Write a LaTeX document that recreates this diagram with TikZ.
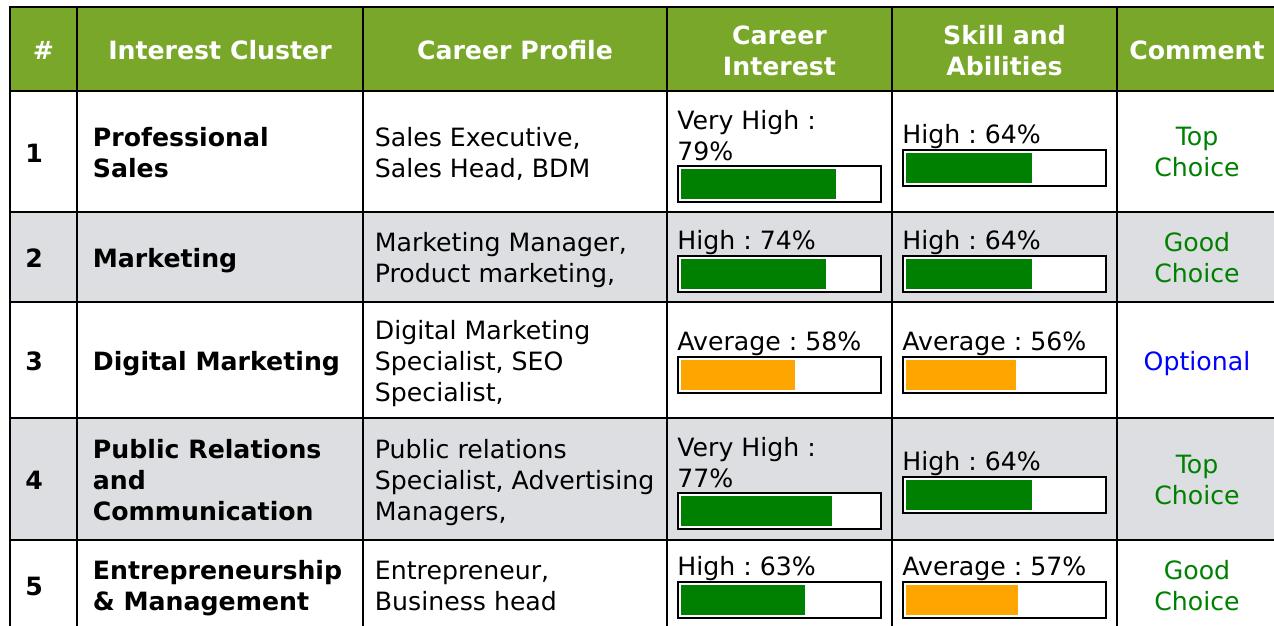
\documentclass[tikz,border=0pt]{standalone}
\usepackage{fontspec}
\setmainfont{DejaVu Sans}

\definecolor{hdrgreen}{RGB}{121,167,42}
\definecolor{rowgray}{RGB}{221,222,225}
\definecolor{bargreen}{RGB}{0,128,0}
\definecolor{barorange}{RGB}{255,165,0}

\newcommand{\cellfont}{\fontsize{12.6pt}{15.5pt}\selectfont\frenchspacing}
\newcommand{\cellstrut}{\rule[-3.4pt]{0pt}{15.5pt}}

\tikzstyle{grid}=[line width=1.2pt, line cap=rect]
\tikzstyle{txt}=[inner sep=0pt, font=\cellfont, execute at begin node=\cellstrut, execute at end node=\cellstrut]
\tikzstyle{head}=[txt, font=\cellfont\bfseries, text=white, align=center]
\tikzstyle{rownum}=[txt, font=\cellfont\bfseries, anchor=west]
\tikzstyle{cluster}=[txt, font=\cellfont\bfseries, anchor=west, align=left]
\tikzstyle{prof}=[txt, anchor=west, align=left]
\tikzstyle{score}=[txt, anchor=south west, align=left]
\tikzstyle{remark}=[txt, align=center]
\tikzstyle{barframe}=[draw=black, fill=white, line width=1pt]

\begin{document}
\begin{tikzpicture}[x=0.5pt,y=-0.5pt]
	\useasboundingbox (0,0) rectangle (1274,626);
	\clip (0,0) rectangle (1274,626);

	% backgrounds
	\fill[hdrgreen] (10,7) rectangle (1277,91);
	\fill[rowgray] (10,212) rectangle (1277,302);
	\fill[rowgray] (10,418) rectangle (1277,540);

	% grid
	\foreach \r in {7,91,212,302,418,540}
		\draw[grid] (10,\r) -- (1277,\r);
	\foreach \c in {10,77,363,667,892,1117,1277}
		\draw[grid] (\c,7) -- (\c,632);

	% header
	\node[head] (hnum) at (43.5,51) {\#};
	\node[head] (hcluster) at (220,51) {Interest Cluster};
	\node[head] (hprofile) at (515,51) {Career Profile};
	\node[head] (hinterest) at (779.5,54) {Career\\Interest};
	\node[head] (hskill) at (1004.5,54) {Skill and\\Abilities};
	\node[head] (hcomment) at (1197,51) {Comment};

	% row numbers and clusters
	\node[rownum] (n1) at (25,153.5) {1};
	\node[rownum] (n2) at (25,259) {2};
	\node[rownum] (n3) at (25,362) {3};
	\node[rownum] (n4) at (25,481) {4};
	\node[rownum] (n5) at (25,587) {5};
	\node[cluster] (ic1) at (92.5,155.5) {Professional\\Sales};
	\node[cluster] (ic2) at (92.5,259) {Marketing};
	\node[cluster] (ic3) at (92.5,362) {Digital Marketing};
	\node[cluster] (ic4) at (92.5,483) {Public Relations\\and\\Communication};
	\node[cluster] (ic5) at (92.5,589) {Entrepreneurship\\\& Management};

	% career profiles
	\node[prof] (cp1) at (374.5,155.5) {Sales Executive,\\Sales Head, BDM};
	\node[prof] (cp2) at (374.5,261) {Marketing Manager,\\Product marketing,};
	\node[prof] (cp3) at (374.5,364) {Digital Marketing\\Specialist, SEO\\Specialist,};
	\node[prof] (cp4) at (374.5,483) {Public relations\\Specialist, Advertising\\Managers,};
	\node[prof] (cp5) at (374.5,589) {Entrepreneur,\\Business head};

	% score bars
	\foreach \bx/\by/\p/\c in {678/166/79/bargreen, 903/150/64/bargreen,
		678/256/74/bargreen, 903/256/64/bargreen,
		678/357/58/barorange, 903/357/56/barorange,
		678/493/77/bargreen, 903/477/64/bargreen,
		678/582/63/bargreen, 903/582/57/barorange}{
		\draw[barframe] (\bx,\by) rectangle ++(203,36);
		\fill[\c] (\bx+3,\by+3) rectangle ++(1.965*\p,30);
	}

	% score labels
	\node[score] (ci1) at (677,168) {Very High :\\79\%};
	\node[score] (sa1) at (902,151) {High : 64\%};
	\node[score] (ci2) at (677,257) {High : 74\%};
	\node[score] (sa2) at (902,257) {High : 64\%};
	\node[score] (ci3) at (677,358) {Average : 58\%};
	\node[score] (sa3) at (902,358) {Average : 56\%};
	\node[score] (ci4) at (677,495) {Very High :\\77\%};
	\node[score] (sa4) at (902,478) {High : 64\%};
	\node[score] (ci5) at (677,583) {High : 63\%};
	\node[score] (sa5) at (902,583) {Average : 57\%};

	% comments
	\node[remark, text=bargreen] (cm1) at (1197,155.5) {Top\\Choice};
	\node[remark, text=bargreen] (cm2) at (1197,261) {Good\\Choice};
	\node[remark, text=blue] (cm3) at (1197,362) {Optional};
	\node[remark, text=bargreen] (cm4) at (1197,483) {Top\\Choice};
	\node[remark, text=bargreen] (cm5) at (1197,589) {Good\\Choice};
\end{tikzpicture}
\end{document}
